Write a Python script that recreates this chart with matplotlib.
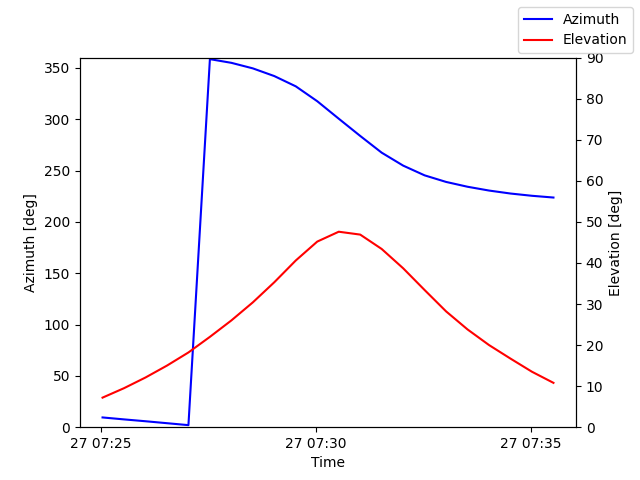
import numpy as np
import pandas as pd
import matplotlib
matplotlib.use('Agg')
import matplotlib.pyplot as plt


# samples every 30 s
times = pd.date_range('2024-05-27 07:25:02', periods=22, freq='30s')

azimuth = [9.5, 7.6, 5.8, 3.9, 2.0, 358.5, 354.9, 349.5, 342.0, 332.0,
           317.5, 300.5, 283.7, 267.4, 254.8, 245.3, 238.9, 234.2, 230.5,
           227.6, 225.4, 223.7]
elevation = [7.2, 9.5, 12.1, 15.0, 18.2, 22.0, 26.0, 30.4, 35.3, 40.6,
             45.2, 47.6, 46.9, 43.4, 38.7, 33.4, 28.2, 23.8, 20.0, 16.7,
             13.5, 10.8]


fig, ax1 = plt.subplots(figsize=(6.4, 4.8))
ax1.plot(times, azimuth, color='blue', label='Azimuth')
ax1.set_ylim(0, 360)
ax1.set_xlabel('Time')
ax1.set_ylabel('Azimuth [deg]')

ax2 = ax1.twinx()
ax2.plot(times, elevation, color='red', label='Elevation')
ax2.set_ylim(0, 90)
ax2.set_ylabel('Elevation [deg]')

fig.legend()
fig.savefig('out.png', dpi=100)
